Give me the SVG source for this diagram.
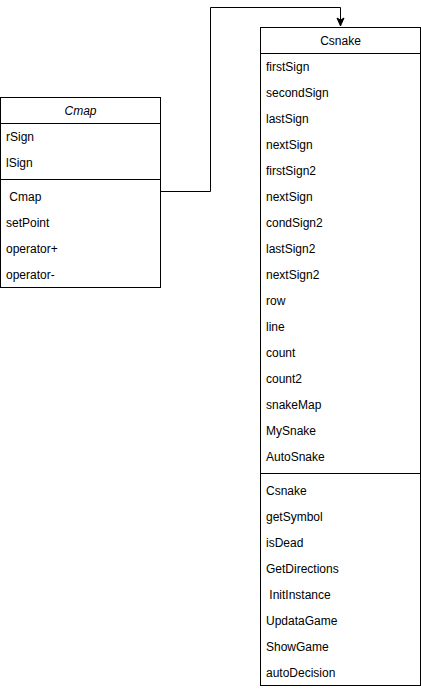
<svg xmlns="http://www.w3.org/2000/svg" width="421" height="689" viewBox="0 0 421 689">
<style>
rect.box{fill:#fff;stroke:#000;stroke-width:1}
line.sep{stroke:#000;stroke-width:1}
text{font-family:"Liberation Sans",Arial,Helvetica,sans-serif;font-size:12px;fill:#000}
text.h{text-anchor:middle}
</style>
<defs>
<marker id="arr" markerWidth="10" markerHeight="10" refX="9" refY="5" orient="auto" markerUnits="userSpaceOnUse">
<path d="M1,1.5 L9,5 L1,8.5 L3,5 Z" fill="#000" stroke="#000" stroke-width="1"/>
</marker>
</defs>
<rect width="421" height="689" fill="#fff"/>
<g id="connectors">
<path d="M160.5,191.5 H210.5 V7.5 H340.5 V26" fill="none" stroke="#000" stroke-width="1" marker-end="url(#arr)"/>
</g>
<g id="Cmap">
<rect class="box" x="0.5" y="97.5" width="160" height="190"/>
<line class="sep" x1="0.5" y1="123.5" x2="160.5" y2="123.5"/>
<line class="sep" x1="0.5" y1="179.5" x2="160.5" y2="179.5"/>
<text class="h" x="80.5" y="114.5" font-style="italic">Cmap</text>
<text x="6" y="140.5">rSign</text>
<text x="6" y="166.5">lSign</text>
<text x="6" y="200.5" xml:space="preserve"> Cmap</text>
<text x="6" y="226.5">setPoint</text>
<text x="6" y="252.5">operator+</text>
<text x="6" y="278.5">operator-</text>
</g>
<g id="Csnake">
<rect class="box" x="260.5" y="27.5" width="160" height="658"/>
<line class="sep" x1="260.5" y1="53.5" x2="420.5" y2="53.5"/>
<line class="sep" x1="260.5" y1="473.5" x2="420.5" y2="473.5"/>
<text class="h" x="340.5" y="44.5">Csnake</text>
<text x="266" y="70.5">firstSign</text>
<text x="266" y="96.5">secondSign</text>
<text x="266" y="122.5">lastSign</text>
<text x="266" y="148.5">nextSign</text>
<text x="266" y="174.5">firstSign2</text>
<text x="266" y="200.5">nextSign</text>
<text x="266" y="226.5">condSign2</text>
<text x="266" y="252.5">lastSign2</text>
<text x="266" y="278.5">nextSign2</text>
<text x="266" y="304.5">row</text>
<text x="266" y="330.5">line</text>
<text x="266" y="356.5">count</text>
<text x="266" y="382.5">count2</text>
<text x="266" y="408.5">snakeMap</text>
<text x="266" y="434.5">MySnake</text>
<text x="266" y="460.5">AutoSnake</text>
<text x="266" y="494.5">Csnake</text>
<text x="266" y="520.5">getSymbol</text>
<text x="266" y="546.5">isDead</text>
<text x="266" y="572.5">GetDirections</text>
<text x="266" y="598.5" xml:space="preserve"> InitInstance</text>
<text x="266" y="624.5">UpdataGame</text>
<text x="266" y="650.5">ShowGame</text>
<text x="266" y="676.5">autoDecision</text>
</g>
</svg>
